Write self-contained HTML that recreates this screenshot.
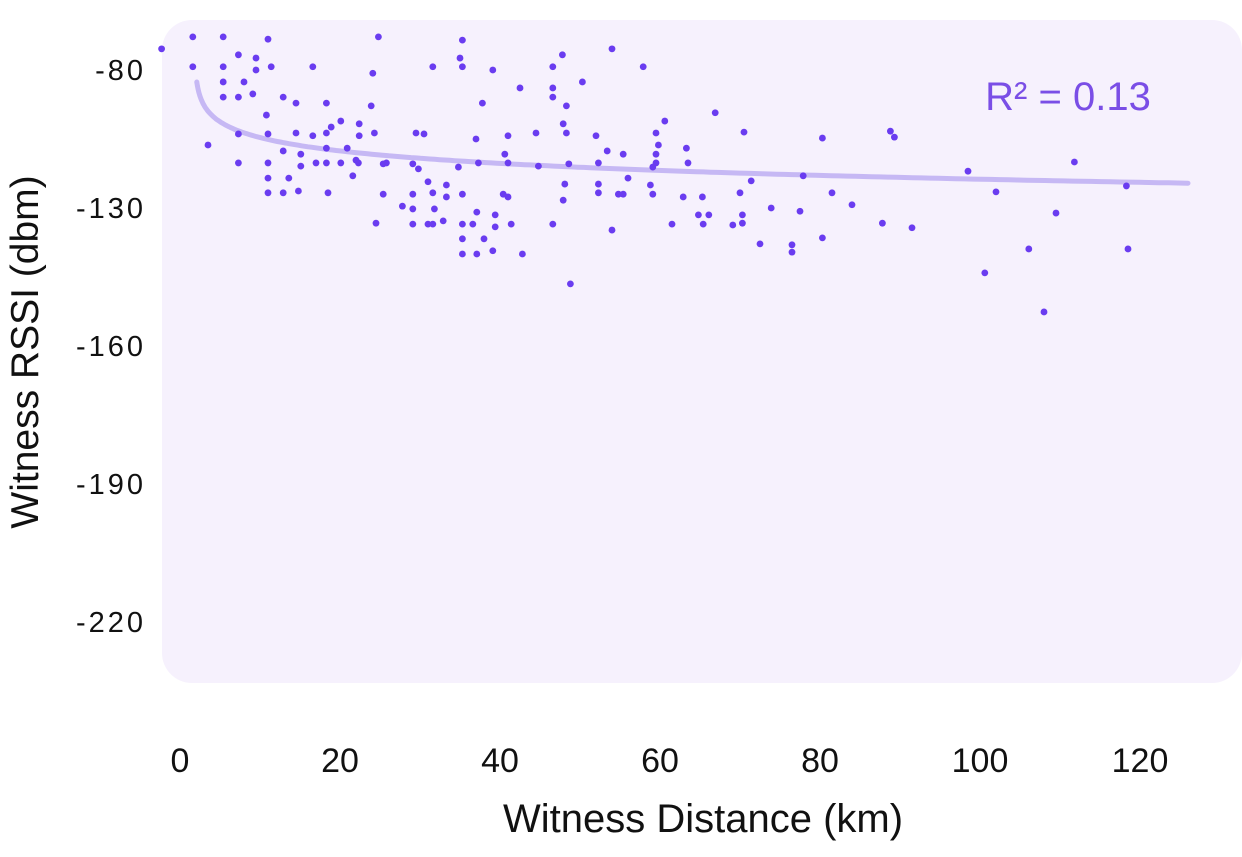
<!DOCTYPE html>
<html><head><meta charset="utf-8"><style>
body{margin:0;background:#fff;font-family:"Liberation Sans",sans-serif}
</style></head><body>
<svg width="1242" height="852" viewBox="0 0 1242 852">
<rect x="162" y="20" width="1080" height="663" rx="30" fill="#f6f1fd"/>
<g id="yticks"></g><g id="xticks"></g>
<path id="trend" fill="none" stroke="#c6b8f4" stroke-width="5" stroke-linecap="round"/>
<g id="pts"></g>
<text x="1068" y="110" text-anchor="middle" font-size="40" fill="#7a4ee6">R² = 0.13</text>
<text x="703" y="832" text-anchor="middle" font-size="40" fill="#111">Witness Distance (km)</text>
<text transform="translate(38,352) rotate(-90)" text-anchor="middle" font-size="39" fill="#111">Witness RSSI (dbm)</text>
</svg>
<script>
const xTicks=[0,20,40,60,80,100,120];
const xTickLabels=["0","20","40","60","80","100","120"];
const yTicks=[-100,-130,-160,-190,-220];
const yTickLabels=["-80","-130","-160","-190","-220"];
const xs=[-2.3,1.6,5.4,11,24.8,7.3,9.5,1.6,5.4,9.5,11.4,16.6,24.1,31.6,5.4,8,5.4,7.3,9.1,12.9,14.5,18.3,23.9,10.8,20.1,22.4,18.9,7.3,11,14.5,16.6,18.3,22.4,24.3,29.5,30.5,3.5,18.3,20.9,12.9,15.1,7.3,11,15.1,17,18.3,20.1,22,22.3,25.4,25.8,29.1,29.8,11,13.6,21.6,31,33.3,11,12.9,14.8,18.5,25.4,29.1,31.6,33.3,27.8,29.1,31.8,24.5,29.1,31,31.6,32.9,35.3,35,35.3,39.1,42.5,37.8,46.6,47.8,54,57.9,50.3,46.6,46.6,48.3,47.9,48.3,44.5,41,37,52,60.6,59.5,59.8,59.5,63.3,63.5,53.4,55.4,40.6,41,37.3,34.8,44.8,48.6,52.3,59.5,59.1,56,52.3,48.1,58.8,59.1,52.3,54.8,55.4,62.9,47.9,40.4,41,35.3,37.1,39.4,39.4,41.4,36.6,35.3,46.6,54,61.5,64.8,35.3,38,35.3,37.1,39.1,42.8,48.8,66.9,70.5,71.4,70,70.3,69.1,70.3,72.5,73.9,76.5,76.5,77.5,77.9,80.3,81.5,80.3,84,87.8,88.8,89.3,91.5,98.5,100.6,102,106.1,108,109.5,111.8,118.3,118.5,65.4,65.3,66.1];
const ys=[-95.4,-92.8,-92.8,-93.3,-92.8,-96.7,-97.4,-99.3,-99.3,-100,-99.3,-99.3,-100.7,-99.3,-102.6,-102.6,-105.9,-105.9,-105.2,-105.9,-107.2,-107.2,-107.8,-109.8,-111.1,-111.7,-112.4,-113.9,-113.9,-113.7,-114.3,-113.7,-114.3,-113.7,-113.7,-113.9,-116.3,-117,-117,-117.6,-118.3,-120.2,-120.2,-120.9,-120.2,-120.2,-120.2,-119.6,-120.2,-120.4,-120.2,-120.4,-121.5,-123.5,-123.5,-123,-124.3,-125,-126.7,-126.7,-126.3,-126.7,-127,-127,-126.7,-127.6,-129.6,-130.2,-130.2,-133.3,-133.5,-133.5,-133.5,-132.8,-93.5,-97.4,-99.3,-100,-103.9,-107.2,-99.3,-96.7,-95.4,-99.3,-102.6,-103.9,-105.9,-107.8,-111.7,-113.7,-113.7,-114.3,-115,-114.3,-111.1,-113.7,-116.3,-118.3,-117,-120.2,-117.6,-118.3,-118.3,-120.2,-120.2,-121.1,-120.9,-120.4,-120.2,-120.2,-121.1,-123.5,-124.8,-124.8,-125,-127,-126.7,-127,-127,-127.6,-128.3,-127,-127.6,-127,-130.9,-131.5,-134.1,-133.5,-133.5,-133.5,-133.5,-134.8,-133.5,-131.5,-136.7,-136.7,-140,-140,-139.3,-140,-146.5,-109.3,-113.5,-124.1,-126.7,-131.5,-133.7,-133.3,-137.8,-130,-138,-139.6,-130.7,-123,-114.8,-126.7,-136.5,-129.3,-133.3,-113.3,-114.6,-134.3,-122,-144.1,-126.5,-138.9,-152.6,-131.1,-120,-125.2,-138.9,-133.5,-127.6,-131.5];
const trendA=-107, trendB=-3.65, trendC=1.8, trendStart=2.1, trendEnd=126;
const NS="http://www.w3.org/2000/svg";
const sx=v=>180+v*8.0;
const sy=v=>70+(-100-v)*4.6;
const yg=document.getElementById('yticks');
yTicks.forEach((t,i)=>{const e=document.createElementNS(NS,'text');
e.setAttribute('x',146);e.setAttribute('y',sy(t)+10);e.setAttribute('text-anchor','end');e.setAttribute('font-size','29');e.setAttribute('letter-spacing','3');e.setAttribute('fill','#111');


e.textContent=yTickLabels[i];yg.appendChild(e);});
const xg=document.getElementById('xticks');
xTicks.forEach((t,i)=>{const e=document.createElementNS(NS,'text');
e.setAttribute('x',sx(t));e.setAttribute('y',772);e.setAttribute('text-anchor','middle');e.setAttribute('font-size','34');e.setAttribute('fill','#111');


e.textContent=xTickLabels[i];xg.appendChild(e);});
let d='';
for(let i=0;i<=200;i++){const x=trendStart+(trendEnd-trendStart)*Math.pow(i/200,2);
const y=trendA+trendB*Math.log(x-trendC);d+=(i?'L':'M')+sx(x).toFixed(1)+','+sy(y).toFixed(1);}
document.getElementById('trend').setAttribute('d',d);
const pg=document.getElementById('pts');
xs.forEach((x,i)=>{const c=document.createElementNS(NS,'circle');
c.setAttribute('cx',sx(x));c.setAttribute('cy',sy(ys[i]));c.setAttribute('r',3.4);c.setAttribute('fill','#6a3cf0');


pg.appendChild(c);});
</script>
</body></html>
